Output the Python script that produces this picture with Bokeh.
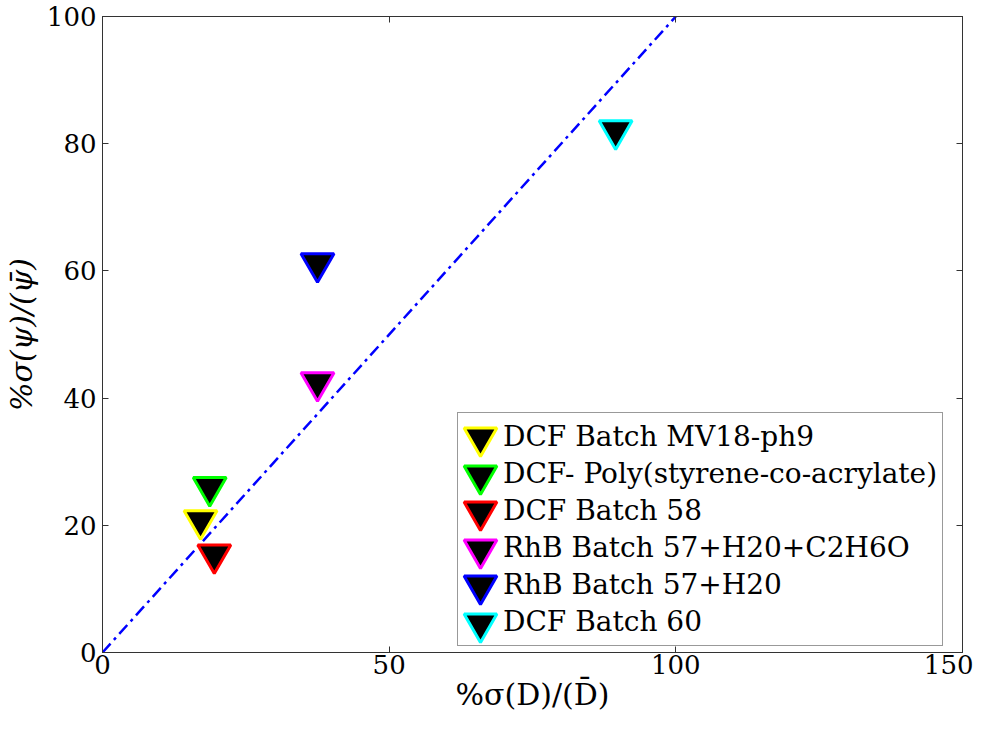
from bokeh.plotting import figure
from bokeh.models import Range1d, LinearAxis, Legend, LegendItem, FixedTicker
from bokeh.embed import file_html
from bokeh.resources import INLINE

# ---- data ----
series_names = [
    "DCF Batch MV18-ph9",
    "DCF- Poly(styrene-co-acrylate)",
    "DCF Batch 58",
    "RhB Batch 57+H20+C2H6O",
    "RhB Batch 57+H20",
    "DCF Batch 60",
]
x_vals = [17.1, 18.7, 19.5, 37.5, 37.5, 89.5]
y_vals = [20.8, 26.0, 15.4, 42.5, 61.2, 82.1]
edge_colors = ["#ffff00", "#00ff00", "#ff0000", "#ff00ff", "#0000ff", "#00ffff"]
ref_x = [0, 100]
ref_y = [0, 100]
x_ticks = [0, 50, 100, 150]
y_ticks = [0, 20, 40, 60, 80, 100]

FONT = "DejaVu Serif"
AX = "#333333"

p = figure(
    width=973, height=714,
    x_range=Range1d(0, 150), y_range=Range1d(0, 100),
    output_backend="svg", toolbar_location=None,
    min_border_left=95, min_border_right=11, min_border_top=16, min_border_bottom=61,
)
p.grid.visible = False
p.outline_line_color = AX
p.background_fill_color = "white"
p.border_fill_color = "white"

p.xaxis.ticker = FixedTicker(ticks=x_ticks)
p.yaxis.ticker = FixedTicker(ticks=y_ticks)
for ax in [p.xaxis[0], p.yaxis[0]]:
    ax.major_tick_in = 6
    ax.major_tick_out = 0
    ax.minor_tick_in = 0
    ax.minor_tick_out = 0
    ax.axis_line_color = AX
    ax.major_tick_line_color = AX
    ax.major_label_text_font = FONT
    ax.major_label_text_font_size = "26px"
    ax.major_label_text_color = "black"
    ax.axis_label_text_font = FONT
    ax.axis_label_text_font_size = "30px"
    ax.axis_label_text_color = "black"

p.xaxis.axis_label_text_font_style = "normal"
p.yaxis.axis_label_text_font_style = "italic"
p.xaxis.axis_label = "%σ(D)/(D\u0304)"
p.yaxis.axis_label = "%σ(ψ)/(ψ\u0304)"
p.xaxis.major_label_standoff = 2
p.yaxis.major_label_standoff = 6
p.xaxis.axis_label_standoff = 0
p.yaxis.axis_label_standoff = 5

# box ticks on the top and right
for loc, tk in (("right", y_ticks), ("above", x_ticks)):
    a = LinearAxis(ticker=FixedTicker(ticks=tk))
    a.major_tick_in = 6
    a.major_tick_out = 0
    a.minor_tick_in = 0
    a.minor_tick_out = 0
    a.axis_line_color = AX
    a.major_tick_line_color = AX
    a.major_label_overrides = {t: "" for t in tk}
    a.major_label_text_font_size = "1px"
    a.major_label_standoff = 0
    p.add_layout(a, loc)

# y = x reference line
p.line(ref_x, ref_y, line_color="#0000ff", line_width=2.5, line_dash="12 5 3 5")

renderers = []
for xv, yv, col in zip(x_vals, y_vals, edge_colors):
    r = p.scatter(x=[xv], y=[yv], marker="inverted_triangle", size=33,
                  fill_color="black", line_color=col, line_width=3)
    renderers.append(r)

# text legend with frame
LEG_X, LEG_Y, ROW, PAD = 355, 6, 37, 5
legend_text = Legend(
    items=[LegendItem(label=n, renderers=[r]) for n, r in zip(series_names, renderers)],
    location=(LEG_X, LEG_Y),
    glyph_width=36, glyph_height=ROW, label_height=ROW,
    spacing=0, padding=PAD, margin=0, label_standoff=4,
    border_line_color=AX, border_line_width=1,
    background_fill_color="white", background_fill_alpha=1.0,
)
legend_text.label_text_font = FONT
legend_text.label_text_font_size = "28px"
legend_text.label_text_font_style = "normal"
legend_text.label_text_color = "black"
p.add_layout(legend_text)

# full-size legend markers, one small legend per row, drawn over the small ones
G = 82
n = len(renderers)
box_h = 2 * PAD + n * ROW
for i, r in enumerate(renderers):
    cy = LEG_Y + box_h - PAD - ROW / 2 - i * ROW
    cx = LEG_X + PAD + 18
    lm = Legend(
        items=[LegendItem(label=" ", renderers=[r])],
        location=(int(round(cx - G / 2)), int(round(cy - G / 2))),
        glyph_width=G, glyph_height=G, label_height=10, label_width=1,
        spacing=0, padding=0, margin=0, label_standoff=0,
        border_line_color=None, background_fill_alpha=0.0,
    )
    lm.label_text_font_size = "1px"
    p.add_layout(lm)

open("out.html", "w").write(file_html(p, INLINE))
